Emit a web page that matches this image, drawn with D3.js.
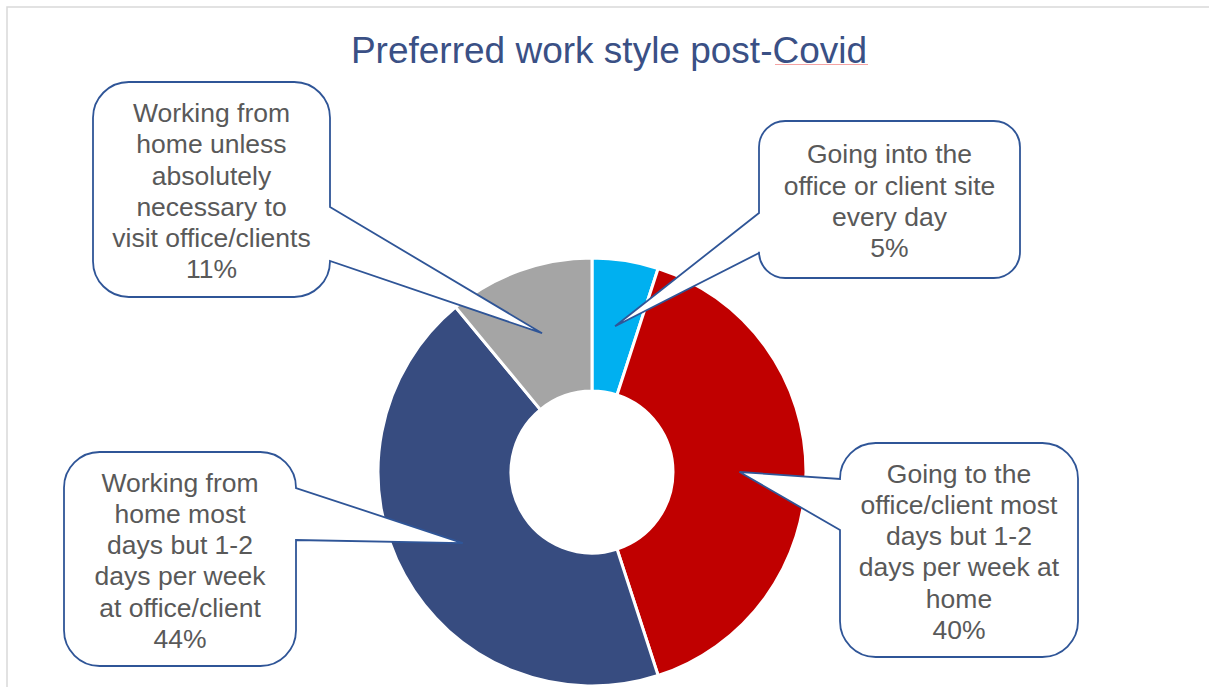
<!DOCTYPE html>
<html>
<head>
<meta charset="utf-8">
<script src="https://cdn.jsdelivr.net/npm/d3@7"></script>
<style>
  html, body { margin: 0; padding: 0; background: #ffffff; }
  svg { display: block; }
  text { font-family: "Liberation Sans", Arial, sans-serif; }
</style>
</head>
<body>
<svg id="chart" width="1209" height="687"></svg>
<script>
// ---- data ----
const title = "Preferred work style post-Covid";
const categories = [
  "Going into the office or client site every day",
  "Going to the office/client most days but 1-2 days per week at home",
  "Working from home most days but 1-2 days per week at office/client",
  "Working from home unless absolutely necessary to visit office/clients"
];
const labelLines = [
  ["Going into the", "office or client site", "every day"],
  ["Going to the", "office/client most", "days but 1-2", "days per week at", "home"],
  ["Working from", "home most", "days but 1-2", "days per week", "at office/client"],
  ["Working from", "home unless", "absolutely", "necessary to", "visit office/clients"]
];
const values = [5, 40, 44, 11];
const colors = ["#00B0F0", "#C00000", "#374C80", "#A5A5A5"];

// ---- layout (positions only) ----
const W = 1209, H = 687;
const cx = 592, cy = 472, outerR = 214, innerR = 81;
const boxes = [
  { x: 759, y: 121, w: 261, h: 157, side: "left",  b1: 213, b2: 253 },
  { x: 840, y: 443, w: 238, h: 214, side: "left",  b1: 479, b2: 530 },
  { x: 64,  y: 452, w: 232, h: 214, side: "right", b1: 488, b2: 540 },
  { x: 93,  y: 82,  w: 237, h: 215, side: "right", b1: 207, b2: 261 }
];

const svg = d3.select("#chart");

// page frame
svg.append("rect")
  .attr("x", 7).attr("y", 7).attr("width", 1400).attr("height", 1000)
  .attr("fill", "none").attr("stroke", "#d9d9d9").attr("stroke-width", 1.5);

// title
svg.append("text")
  .attr("x", 609).attr("y", 63)
  .attr("text-anchor", "middle")
  .attr("font-size", 37)
  .attr("fill", "#3A5085")
  .text(title);
// spell-check squiggle under "Covid"
svg.append("line")
  .attr("x1", 775).attr("x2", 868).attr("y1", 64.5).attr("y2", 64.5)
  .attr("stroke", "#f4a3a3").attr("stroke-width", 1);

// donut
const pie = d3.pie().sort(null).value(d => d)
  .startAngle(0).endAngle(2 * Math.PI);
const arcs = pie(values);
const arc = d3.arc().innerRadius(innerR).outerRadius(outerR);

const g = svg.append("g").attr("transform", `translate(${cx},${cy})`);
g.selectAll("path.slice")
  .data(arcs)
  .join("path")
  .attr("class", "slice")
  .attr("d", arc)
  .attr("fill", (d, i) => colors[i])
  .attr("stroke", "#ffffff")
  .attr("stroke-width", 3)
  .attr("stroke-linejoin", "miter");

// callouts
function calloutPath(b, tip) {
  const r = Math.min(b.w, b.h) / 6;
  const x = b.x, y = b.y, x2 = b.x + b.w, y2 = b.y + b.h;
  let p = `M${x + r},${y} H${x2 - r} A${r},${r} 0 0 1 ${x2},${y + r}`;
  if (b.side === "right") p += ` V${b.b1} L${tip[0]},${tip[1]} L${x2},${b.b2}`;
  p += ` V${Math.max(y2 - r, b.side === "right" ? b.b2 : y + r)} A${r},${r} 0 0 1 ${x2 - r},${y2}`;
  p += ` H${x + r} A${r},${r} 0 0 1 ${x},${y2 - r}`;
  if (b.side === "left") p += ` V${b.b2} L${tip[0]},${tip[1]} L${x},${b.b1}`;
  p += ` V${y + r} A${r},${r} 0 0 1 ${x + r},${y} Z`;
  return p;
}

const fontSize = 26.5, lineH = 31.2;
const callouts = svg.append("g");
arcs.forEach((a, i) => {
  const b = boxes[i];
  const c = arc.centroid(a);
  const tip = [cx + c[0], cy + c[1]];
  callouts.append("path")
    .attr("d", calloutPath(b, tip))
    .attr("fill", "#ffffff")
    .attr("stroke", "#2F5597")
    .attr("stroke-width", 1.8)
    .attr("stroke-linejoin", "miter");
  const lines = labelLines[i].concat([d3.format(".0%")(values[i] / d3.sum(values))]);
  const bcx = b.x + b.w / 2, bcy = b.y + b.h / 2 + 1.5;
  const first = bcy - (lines.length - 1) / 2 * lineH + 0.35 * fontSize;
  const t = callouts.append("text")
    .attr("text-anchor", "middle")
    .attr("font-size", fontSize)
    .attr("fill", "#595959");
  lines.forEach((ln, k) => {
    t.append("tspan").attr("x", bcx).attr("y", first + k * lineH).text(ln);
  });
});
</script>
</body>
</html>
